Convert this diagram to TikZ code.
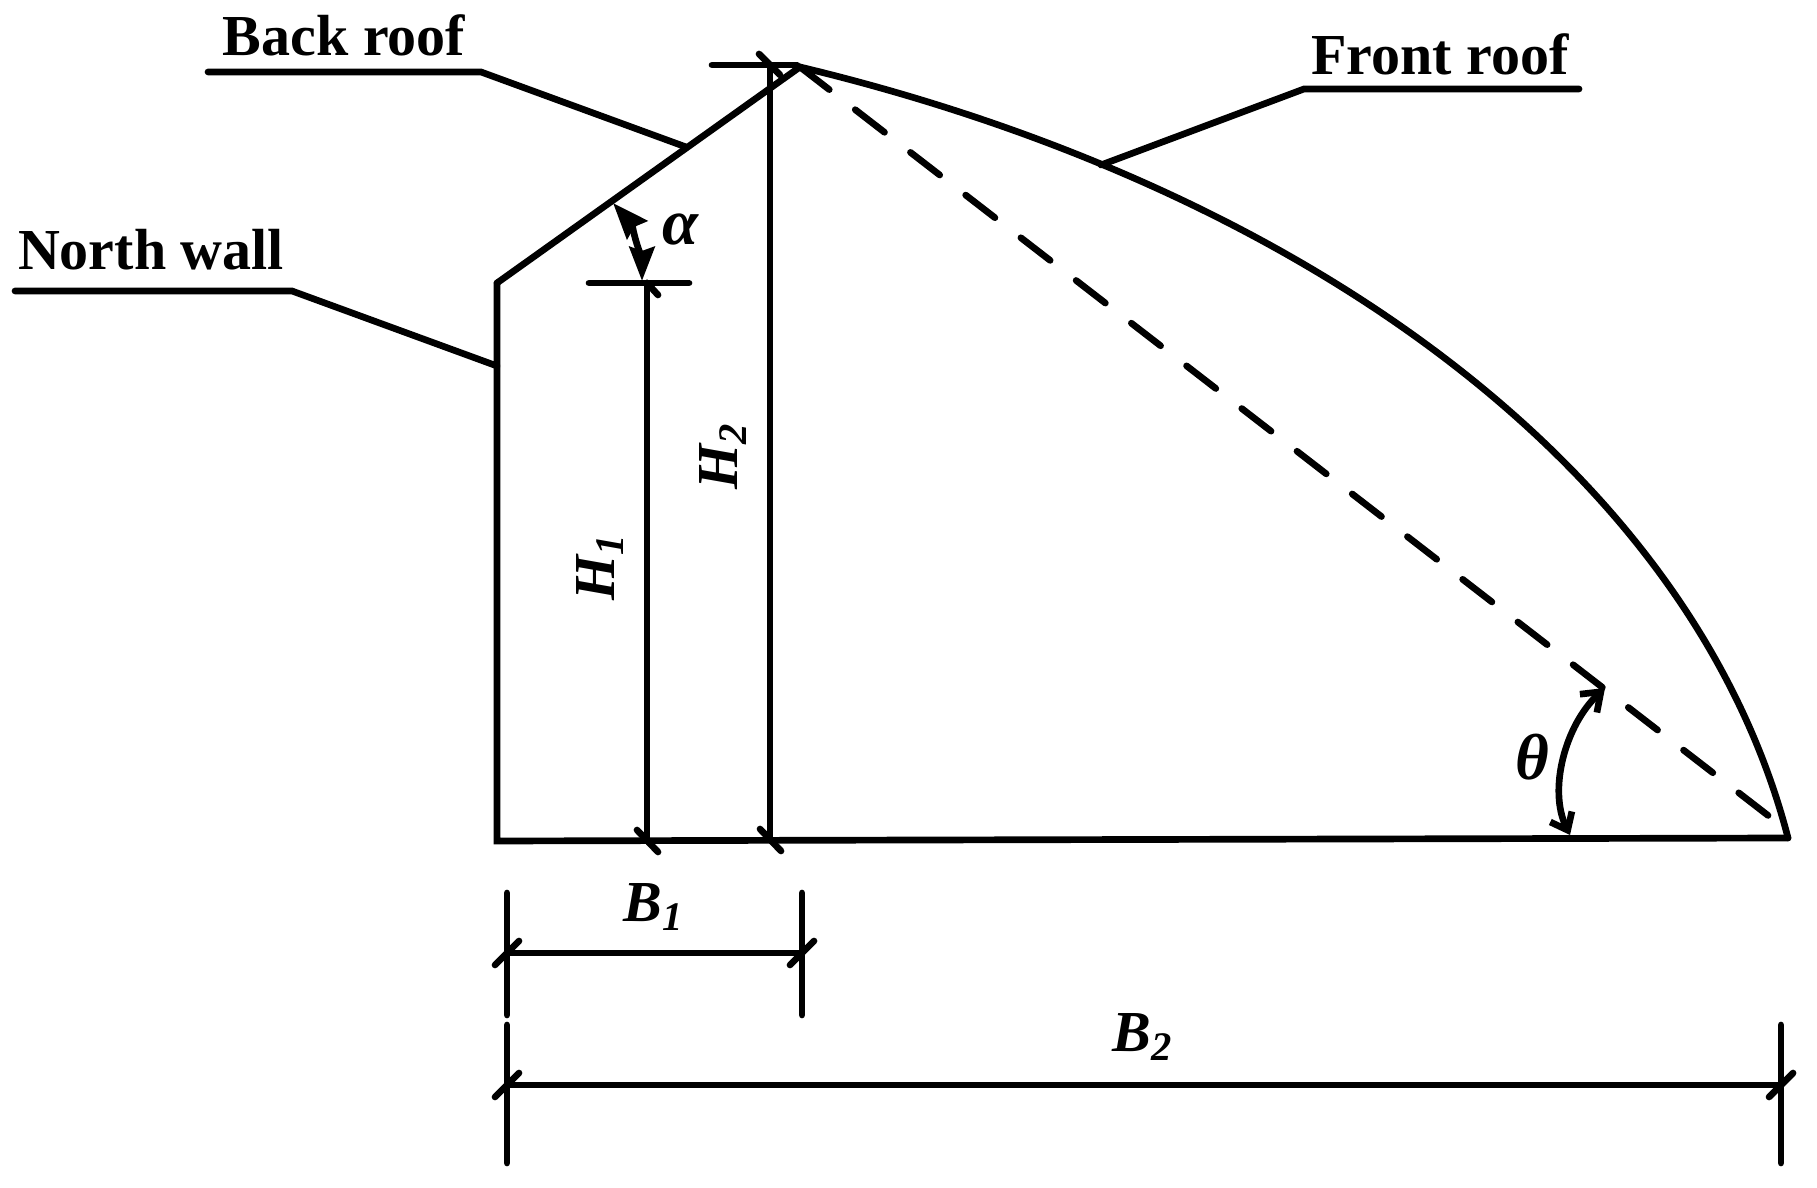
\documentclass[tikz,border=0pt]{standalone}
\usepackage{fontspec}
\setmainfont{Liberation Serif}
\usetikzlibrary{arrows.meta}
\tikzset{
	line/.style={line width=1.9pt,line cap=round},
	slash/.style={line width=1.9pt,line cap=round},
	solidhead/.style={{Stealth[length=0.36cm,width=0.27cm,inset=0.04cm]}-{Stealth[length=0.34cm,width=0.25cm,inset=0.04cm]}},
	barbhead/.style={{Straight Barb[length=0.17cm,width=0.25cm]}-{Straight Barb[length=0.15cm,width=0.24cm]}},
	lbl/.style={font=\fontsize{16.5}{18}\selectfont\bfseries,inner sep=0pt},
	sym/.style={font=\fontsize{16.5}{18}\selectfont\bfseries\itshape,inner sep=0pt},
	greek/.style={font=\fontsize{18.5}{22}\selectfont\bfseries\itshape,inner sep=0pt}
}
\begin{document}
\begin{tikzpicture}
	\useasboundingbox (0,0) rectangle (18.17,11.87);
	
	% Outline
	\coordinate (base) at (4.97,3.46);
	\coordinate (eave) at (4.97,9.04);
	\coordinate (ridge) at (8.00,11.20);
	\coordinate (toe) at (17.88,3.49);
	\draw[line,line join=miter] (eave) -- (base) -- (toe);
	\draw[line] (eave) -- (ridge);
	\draw[line] (ridge) .. controls (13.00,10.00) and (16.92,7.19) .. (toe);
	\draw[line,dash pattern=on 0.37cm off 0.328cm] (ridge) -- (17.70,3.70);
	
	% Heights
	\coordinate (h1top) at (6.47,9.04);
	\coordinate (h1bot) at (6.47,3.46);
	\coordinate (h2top) at (7.70,11.22);
	\coordinate (h2bot) at (7.70,3.47);
	\draw[line] (h1top) -- (h1bot);
	\draw[line] (h2top) -- (h2bot);
	\draw[line] (5.89,9.04) -- (6.89,9.04);
	\draw[line] (7.12,11.22) -- (7.97,11.22);
	
	% Ticks
	% heights
	\draw[slash] ([shift={(-.10,.11)}]h1bot) -- ([shift={(.11,-.11)}]h1bot);
	\draw[slash] ([shift={(-.10,.11)}]h2bot) -- ([shift={(.11,-.11)}]h2bot);
	\draw[slash] (h1top) -- ([shift={(.11,-.12)}]h1top);
	\draw[slash] ([shift={(-.11,.11)}]h2top) -- ([shift={(.10,-.10)}]h2top);
	% widths
	\coordinate (b1l) at (5.07,2.34);
	\coordinate (b1r) at (8.02,2.34);
	\coordinate (b2l) at (5.07,1.02);
	\coordinate (b2r) at (17.81,1.02);
	\draw[slash] ([shift={(-.12,-.12)}]b1l) -- ([shift={(.12,.12)}]b1l);
	\draw[slash] ([shift={(-.12,-.12)}]b1r) -- ([shift={(.12,.12)}]b1r);
	\draw[slash] ([shift={(-.12,-.12)}]b2l) -- ([shift={(.12,.12)}]b2l);
	\draw[slash] ([shift={(-.12,-.12)}]b2r) -- ([shift={(.12,.12)}]b2r);
	
	% Widths
	\draw[line] (b1l) -- (b1r);
	\draw[line] (b2l) -- (b2r);
	\draw[line] (5.07,2.94) -- (5.07,1.72);
	\draw[line] (8.02,2.94) -- (8.02,1.72);
	\draw[line] (5.07,1.62) -- (5.07,0.24);
	\draw[line] (17.81,1.62) -- (17.81,0.24);
	
	% Angles
	\draw[line,line cap=butt,solidhead] (6.13,9.84) .. controls (6.30,9.65) and (6.42,9.22) .. (6.42,9.06);
	\draw[line,barbhead] (16.05,4.99) .. controls (15.65,4.62) and (15.48,3.97) .. (15.70,3.52);
	
	% Leaders
	\draw[line] (2.08,11.15) -- (4.81,11.15) -- (6.86,10.40);
	\draw[line] (15.79,10.98) -- (13.04,10.98) -- (11.01,10.22);
	\draw[line] (0.15,8.96) -- (2.92,8.96) -- (4.97,8.21);
	
	% nodes
	\node[lbl] (backroof) at (3.44,11.52) {Back roof};
	\node[lbl] (frontroof) at (14.40,11.33) {Front roof};
	\node[lbl] (northwall) at (1.51,9.37) {North wall};
	\node[sym,rotate=90] (hone) at (6.00,6.20) {H\textsubscript{1}};
	\node[sym,rotate=90] (htwo) at (7.23,7.31) {H\textsubscript{2}};
	\node[sym] (bone) at (6.54,2.80) {B\textsubscript{1}};
	\node[sym] (btwo) at (11.43,1.50) {B\textsubscript{2}};
	\node[greek] (alpha) at (6.80,9.57) {α};
	\node[greek] (theta) at (15.32,4.30) {θ};
\end{tikzpicture}
\end{document}
